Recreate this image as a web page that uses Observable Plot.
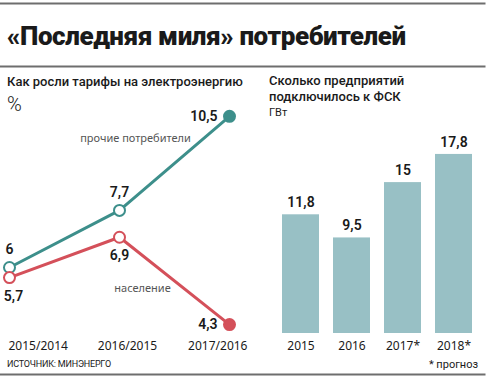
<!DOCTYPE html>
<html><head><meta charset="utf-8">
<script src="https://cdn.jsdelivr.net/npm/d3@7"></script>
<script src="https://cdn.jsdelivr.net/npm/@observablehq/plot@0.6"></script>
<style>
body{margin:0;background:#fff;font-family:Roboto,"DejaVu Sans",sans-serif;color:#1a1a1a;}
#root{position:relative;width:486px;height:380px;overflow:hidden;}
.abs{position:absolute;white-space:nowrap;}
</style></head><body>
<div id="root">
  <div id="bg1" class="abs" style="left:0;top:0;"></div>
  <div id="bg2" class="abs" style="left:0;top:0;"></div>
  <div class="abs" style="left:7px;top:21px;font-size:26px;font-weight:900;letter-spacing:-0.4px;">«Последняя миля» потребителей</div>
  <div class="abs" style="left:7px;top:74px;font-size:13px;font-weight:500;">Как росли тарифы на электроэнергию</div>
  <div class="abs" style="left:7px;top:92px;font-size:20px;font-weight:300;">%</div>
  <div class="abs" style="left:269px;top:73px;font-size:13px;font-weight:500;line-height:16px;">Сколько предприятий<br>подключилось к ФСК</div>
  <div class="abs" style="left:269px;top:106px;font-size:11px;">ГВт</div>
  <div id="left" class="abs" style="left:0;top:90px;"></div>
  <div id="right" class="abs" style="left:260px;top:100px;"></div>
  <div class="abs" style="left:7px;top:359px;font-size:9px;letter-spacing:-0.2px;">ИСТОЧНИК: МИНЭНЕРГО</div>
  <div class="abs" style="right:8px;top:358px;font-size:11px;">* прогноз</div>
</div>
<script>
const periods = ["2015/2014", "2016/2015", "2017/2016"];
const otherValues = [6, 7.7, 10.5];
const householdValues = [5.7, 6.9, 4.3];
const otherLabel = "прочие потребители";
const householdLabel = "население";

const years = ["2015", "2016", "2017*", "2018*"];
const capacity = [11.8, 9.5, 15, 17.8];

const teal = "#3d8f8b", red = "#d4505a", barColor = "#98c0c5";
const ruleColor = "#6e6e6e";
const fmt = v => String(v).replace(".", ",");

// page separator rules: frame edges of two full-width background plots
document.getElementById("bg1").appendChild(Plot.plot({
  width: 486, height: 380, marginTop: 3, marginBottom: 6, marginLeft: 0, marginRight: 2,
  marks: [
    Plot.frame({anchor: "top", stroke: ruleColor, strokeWidth: 2}),
    Plot.frame({anchor: "bottom", stroke: ruleColor, strokeWidth: 2})
  ]
}));
document.getElementById("bg2").appendChild(Plot.plot({
  width: 486, height: 80, marginTop: 66, marginBottom: 4, marginLeft: 0, marginRight: 2,
  marks: [Plot.frame({anchor: "top", stroke: ruleColor, strokeWidth: 2})]
}));

const other = periods.map((p, i) => ({p, v: otherValues[i], last: i === periods.length - 1}));
const house = periods.map((p, i) => ({p, v: householdValues[i], last: i === periods.length - 1}));

const numFont = {fontSize: 14, fontWeight: 600, fill: "#1a1a1a", fontFamily: "Roboto, sans-serif"};

const left = Plot.plot({
  width: 250, height: 270,
  marginLeft: 8, marginRight: 21, marginTop: 9, marginBottom: 25.8,
  x: {type: "point", domain: periods, padding: 0, axis: null},
  y: {domain: [4, 11], axis: null},
  marks: [
    Plot.line(other, {x: "p", y: "v", stroke: teal, strokeWidth: 3}),
    Plot.line(house, {x: "p", y: "v", stroke: red, strokeWidth: 3}),
    Plot.dot(other, {x: "p", y: "v", r: 5.5, stroke: teal, strokeWidth: 2, fill: d => d.last ? teal : "white"}),
    Plot.dot(house, {x: "p", y: "v", r: 5.5, stroke: red, strokeWidth: 2, fill: d => d.last ? red : "white"}),
    Plot.text(other.slice(0, 2), {x: "p", y: "v", text: d => fmt(d.v), dy: -18, ...numFont}),
    Plot.text(other.slice(2), {x: "p", y: "v", text: d => fmt(d.v), dx: -12, textAnchor: "end", ...numFont}),
    Plot.text(house.slice(0, 1), {x: "p", y: "v", text: d => fmt(d.v), dy: 19, dx: 4, ...numFont}),
    Plot.text(house.slice(1, 2), {x: "p", y: "v", text: d => fmt(d.v), dy: 18, ...numFont}),
    Plot.text(house.slice(2), {x: "p", y: "v", text: d => fmt(d.v), dx: -12, textAnchor: "end", ...numFont}),
    Plot.text([other[2]], {x: "p", y: "v", text: () => otherLabel, dx: -94, dy: 22, fontSize: 11, fill: "#555"}),
    Plot.text([house[2]], {x: "p", y: "v", text: () => householdLabel, dx: -87, dy: -36, fontSize: 11, fill: "#555"}),
    Plot.text([periods[0]], {x: d => d, frameAnchor: "bottom", dy: 15, dx: -1, textAnchor: "start", fontSize: 12, fill: "#1a1a1a"}),
    Plot.text([periods[1]], {x: d => d, frameAnchor: "bottom", dy: 15, dx: 8, fontSize: 12, fill: "#1a1a1a"}),
    Plot.text([periods[2]], {x: d => d, frameAnchor: "bottom", dy: 15, dx: 18, textAnchor: "end", fontSize: 12, fill: "#1a1a1a"})
  ]
});
document.getElementById("left").appendChild(left);

const bars = years.map((y, i) => ({y, v: capacity[i]}));
const right = Plot.plot({
  width: 226, height: 260,
  marginLeft: 21.7, marginRight: 14.3, marginTop: 31.8, marginBottom: 27,
  x: {type: "band", domain: years, paddingInner: 0.28, paddingOuter: 0, axis: null},
  y: {domain: [0, 20], axis: null},
  marks: [
    Plot.barY(bars, {x: "y", y: "v", fill: barColor}),
    Plot.text(bars, {x: "y", y: "v", text: d => fmt(d.v), dy: -12, ...numFont}),
    Plot.text(bars, {x: "y", text: "y", frameAnchor: "bottom", dy: 16, fontSize: 12, fill: "#1a1a1a"})
  ]
});
document.getElementById("right").appendChild(right);
</script>
</body></html>
